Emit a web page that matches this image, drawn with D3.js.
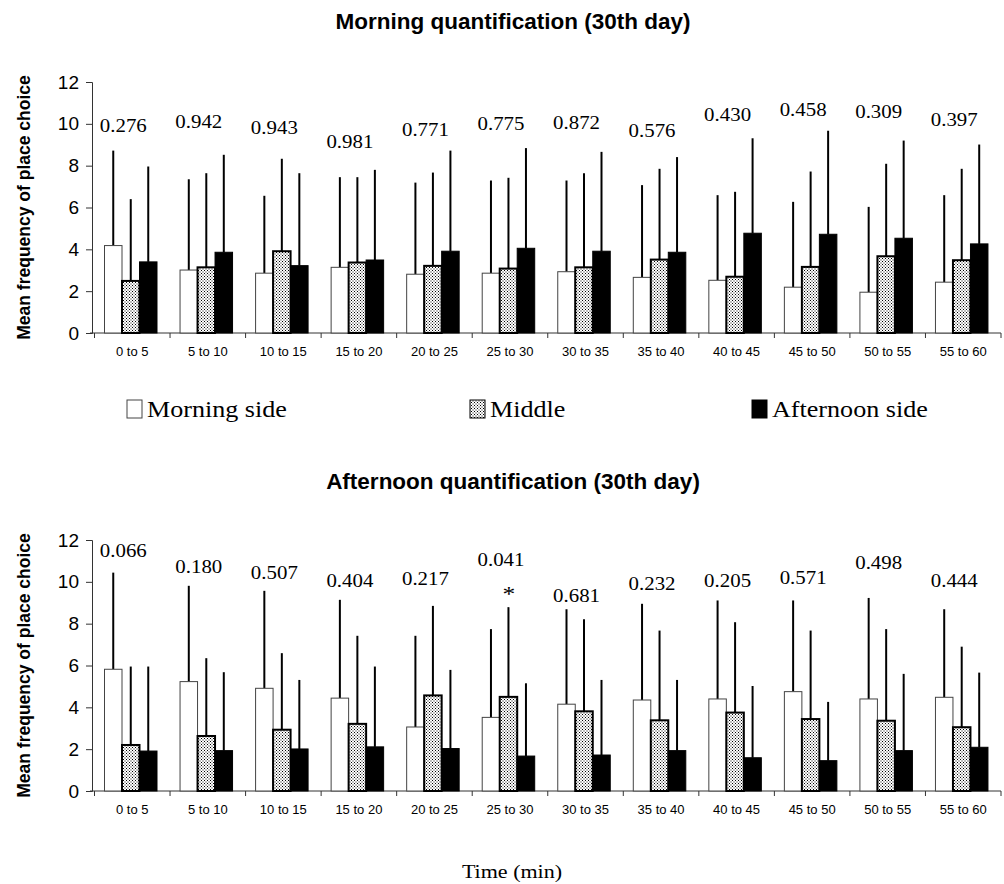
<!DOCTYPE html>
<html>
<head>
<meta charset="utf-8">
<script src="https://cdn.jsdelivr.net/npm/d3@7"></script>
<style>
  body { margin: 0; background: #fff; }
  svg { display: block; }
</style>
</head>
<body>
<div id="chart"></div>
<script>
// time bins on the x axis
var bins = ["0 to 5", "5 to 10", "10 to 15", "15 to 20", "20 to 25", "25 to 30",
            "30 to 35", "35 to 40", "40 to 45", "45 to 50", "50 to 55", "55 to 60"];
var seriesNames = ["Morning side", "Middle", "Afternoon side"];

// morning quantification - means and SD
var amMorningSide = [4.18, 3.01, 2.86, 3.14, 2.81, 2.86, 2.93, 2.66, 2.52, 2.19, 1.95, 2.43];
var amMorningSideSd = [4.54, 4.34, 3.70, 4.31, 4.38, 4.43, 4.36, 4.41, 4.07, 4.08, 4.08, 4.16];
var amMiddle = [2.49, 3.14, 3.91, 3.37, 3.21, 3.08, 3.14, 3.51, 2.69, 3.16, 3.67, 3.48];
var amMiddleSd = [3.91, 4.50, 4.42, 4.08, 4.46, 4.34, 4.50, 4.34, 4.06, 4.56, 4.42, 4.37];
var amAfternoonSide = [3.40, 3.86, 3.22, 3.49, 3.91, 4.05, 3.91, 3.86, 4.77, 4.72, 4.53, 4.26];
var amAfternoonSideSd = [4.56, 4.66, 4.42, 4.31, 4.81, 4.79, 4.75, 4.55, 4.54, 4.95, 4.67, 4.75];
var amPValues = ["0.276", "0.942", "0.943", "0.981", "0.771", "0.775", "0.872", "0.576", "0.430", "0.458", "0.309", "0.397"];
var amPLevel = [9.63, 9.81, 9.52, 8.85, 9.43, 9.71, 9.76, 9.38, 10.14, 10.38, 10.29, 9.90];
var amStars = ["", "", "", "", "", "", "", "", "", "", "", ""];

// afternoon quantification - means and SD
var pmMorningSide = [5.82, 5.23, 4.91, 4.44, 3.06, 3.52, 4.15, 4.35, 4.40, 4.75, 4.40, 4.48];
var pmMorningSideSd = [4.62, 4.58, 4.66, 4.70, 4.36, 4.22, 4.54, 4.60, 4.71, 4.36, 4.83, 4.21];
var pmMiddle = [2.20, 2.63, 2.93, 3.21, 4.57, 4.50, 3.81, 3.38, 3.75, 3.44, 3.36, 3.05];
var pmMiddleSd = [3.75, 3.72, 3.66, 4.21, 4.28, 4.29, 4.40, 4.29, 4.32, 4.23, 4.38, 3.85];
var pmAfternoonSide = [1.91, 1.93, 2.01, 2.11, 2.03, 1.67, 1.72, 1.93, 1.59, 1.45, 1.93, 2.09];
var pmAfternoonSideSd = [4.04, 3.75, 3.30, 3.84, 3.76, 3.48, 3.59, 3.38, 3.43, 2.81, 3.67, 3.57];
var pmPValues = ["0.066", "0.180", "0.507", "0.404", "0.217", "0.041", "0.681", "0.232", "0.205", "0.571", "0.498", "0.444"];
var pmPLevel = [11.21, 10.43, 10.14, 9.76, 9.86, 10.77, 9.04, 9.62, 9.76, 9.90, 10.62, 9.76];
var pmStars = ["", "", "", "", "", "*", "", "", "", "", "", ""];

var yTicks = [0, 2, 4, 6, 8, 10, 12];

var W = 1004, H = 884;
var sans = "'Liberation Sans', Arial, sans-serif";
var serif = "'Liberation Serif', 'Times New Roman', serif";
var stretch = 1.16; // the scan is a bit wider than tall

var svg = d3.select("#chart").append("svg")
    .attr("width", W)
    .attr("height", H);

// fine dotted fill for the middle bars
var pat = svg.append("defs").append("pattern")
    .attr("id", "dots")
    .attr("patternUnits", "userSpaceOnUse")
    .attr("width", 3).attr("height", 3);
pat.append("rect").attr("width", 3).attr("height", 3).attr("fill", "#fff");
pat.append("rect").attr("x", 0).attr("y", 0).attr("width", 1).attr("height", 1).attr("fill", "#000");
pat.append("rect").attr("x", 1.5).attr("y", 1.5).attr("width", 1).attr("height", 1).attr("fill", "#000");

var fills = ["#fff", "url(#dots)", "#000"];
var strokes = ["#444", "#000", "#000"];
var strokeW = [1, 2, 1];

var x = d3.scaleBand().domain(bins).range([94.5, 1001]);
var xs = d3.scaleBand().domain(seriesNames).range([10, 62.5]);

function serifText(g, px, py, str, size) {
  return g.append("text")
    .attr("transform", "translate(" + px + "," + py + ") scale(" + stretch + ",1)")
    .attr("text-anchor", "middle")
    .attr("font-family", serif)
    .attr("font-size", size)
    .text(str);
}

function drawPanel(p) {
  var y = d3.scaleLinear().domain([0, 12]).range([p.bottom, p.top]);
  var g = svg.append("g");

  g.append("text")
    .attr("x", 513).attr("y", p.titleY)
    .attr("text-anchor", "middle")
    .attr("font-family", sans).attr("font-weight", "bold").attr("font-size", 22.5)
    .text(p.title);

  g.append("text")
    .attr("transform", "translate(30," + ((p.top + p.bottom) / 2) + ") rotate(-90)")
    .attr("text-anchor", "middle")
    .attr("font-family", sans).attr("font-weight", "bold").attr("font-size", 17.5)
    .text("Mean frequency of place choice");

  // y axis
  var yAxis = g.append("g")
    .attr("transform", "translate(92,0)")
    .call(d3.axisLeft(y).tickValues(yTicks).tickSize(6).tickPadding(7));
  yAxis.select(".domain").attr("stroke", "#333");
  yAxis.selectAll(".tick line").attr("stroke", "#333");
  yAxis.selectAll("text").attr("font-family", sans).attr("font-size", 19).attr("fill", "#000");

  // x axis line with ticks at bin boundaries
  g.append("line")
    .attr("x1", 90).attr("x2", 1001)
    .attr("y1", p.bottom).attr("y2", p.bottom)
    .attr("stroke", "#333");
  var bounds = bins.map(function (b) { return x(b) + x.bandwidth(); });
  bounds.unshift(x(bins[0]));
  g.selectAll(".xtick").data(bounds).enter().append("line")
    .attr("x1", function (d) { return d; }).attr("x2", function (d) { return d; })
    .attr("y1", p.bottom).attr("y2", p.bottom + 5)
    .attr("stroke", "#333");
  g.selectAll(".xlab").data(bins).enter().append("text")
    .attr("x", function (d) { return x(d) + x.bandwidth() / 2; })
    .attr("y", p.bottom + 23)
    .attr("text-anchor", "middle")
    .attr("font-family", sans).attr("font-size", 13)
    .text(function (d) { return d; });

  // bars + error bars
  p.series.forEach(function (s, si) {
    var name = seriesNames[si];
    var bw = xs.bandwidth();
    var rows = bins.map(function (b, i) { return { bin: b, v: s.mean[i], sd: s.sd[i] }; });
    var gs = g.append("g");
    gs.selectAll("line").data(rows).enter().append("line")
      .attr("x1", function (d) { return x(d.bin) + xs(name) + bw / 2; })
      .attr("x2", function (d) { return x(d.bin) + xs(name) + bw / 2; })
      .attr("y1", function (d) { return y(d.v); })
      .attr("y2", function (d) { return y(d.v + d.sd); })
      .attr("stroke", "#000").attr("stroke-width", 2);
    gs.selectAll("rect").data(rows).enter().append("rect")
      .attr("x", function (d) { return x(d.bin) + xs(name); })
      .attr("y", function (d) { return y(d.v); })
      .attr("width", bw)
      .attr("height", function (d) { return y(0) - y(d.v); })
      .attr("fill", fills[si])
      .attr("stroke", strokes[si])
      .attr("stroke-width", strokeW[si]);
  });

  // p values and significance marks
  bins.forEach(function (b, i) {
    var cx = x(b) + x.bandwidth() / 2 - 9;
    serifText(g, cx, y(p.pLevel[i]), p.pValues[i], 18);
    if (p.stars[i]) {
      serifText(g, x(b) + x.bandwidth() / 2 - 1, y(p.pLevel[i]) + 35, p.stars[i], 22);
    }
  });
}

drawPanel({
  title: "Morning quantification (30th day)", titleY: 29, top: 82, bottom: 333,
  series: [
    { mean: amMorningSide, sd: amMorningSideSd },
    { mean: amMiddle, sd: amMiddleSd },
    { mean: amAfternoonSide, sd: amAfternoonSideSd }
  ],
  pValues: amPValues, pLevel: amPLevel, stars: amStars
});

drawPanel({
  title: "Afternoon quantification (30th day)", titleY: 489, top: 540, bottom: 791,
  series: [
    { mean: pmMorningSide, sd: pmMorningSideSd },
    { mean: pmMiddle, sd: pmMiddleSd },
    { mean: pmAfternoonSide, sd: pmAfternoonSideSd }
  ],
  pValues: pmPValues, pLevel: pmPLevel, stars: pmStars
});

// legend
var legendX = [127, 470, 752];
var lg = svg.append("g");
seriesNames.forEach(function (n, i) {
  lg.append("rect")
    .attr("x", legendX[i]).attr("y", 400)
    .attr("width", 15).attr("height", 18)
    .attr("fill", fills[i]).attr("stroke", strokes[i]).attr("stroke-width", 1);
  lg.append("text")
    .attr("transform", "translate(" + (legendX[i] + 20) + ",417) scale(" + stretch + ",1)")
    .attr("font-family", serif).attr("font-size", 22.5)
    .text(n);
});

serifText(svg, 512, 878, "Time (min)", 19);
</script>
</body>
</html>
